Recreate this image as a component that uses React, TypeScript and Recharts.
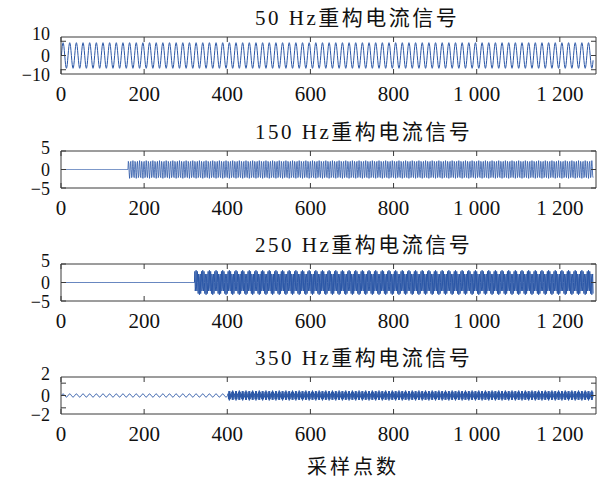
import React from 'react';
import { LineChart, Line, XAxis, YAxis } from 'recharts';

const SAMPLE_COUNT = 1280;
const X_MAX = 1287;
const X_TICKS = [0, 200, 400, 600, 800, 1000, 1200];

// one 16-sample period of each reconstructed band
const wave50 = [0, 3.4, 6.4, 8.3, 9.0, 8.3, 6.4, 3.4, 0, -3.4, -6.4, -8.3, -9.0, -8.3, -6.4, -3.4];
const wave150 = [0, 2.2, 1.7, -0.9, -2.4, -0.9, 1.7, 2.2, 0, -2.2, -1.7, 0.9, 2.4, 0.9, -1.7, -2.2];
const wave250 = [0, 3.0, -2.3, -1.2, 3.3, -1.2, -2.3, 3.0, 0, -3.0, 2.3, 1.2, -3.3, 1.2, 2.3, -3.0];
const wave350 = [0, 0.3, -0.6, 0.7, -0.8, 0.7, -0.6, 0.3, 0, -0.3, 0.6, -0.7, 0.8, -0.7, 0.6, -0.3];
const ripple350 = [0, 0.1, 0.18, 0.23, 0.25, 0.23, 0.18, 0.1, 0, -0.1, -0.18, -0.23, -0.25, -0.23, -0.18, -0.1];

// sample where each band switches on
const onset150 = 161;
const onset250 = 321;
const onset350 = 401;

const titles = ['50 Hz重构电流信号', '150 Hz重构电流信号', '250 Hz重构电流信号', '350 Hz重构电流信号'];
const seriesKeys = ['s50', 's150', 's250', 's350'];
const yTicks = [[-10, 0, 10], [-5, 0, 5], [-5, 0, 5], [-2, 0, 2]];
const yDomains = [[-13, 13], [-5, 5], [-5, 5], [-3, 3]];
const lineWidths = [1, 0.8, 1, 1];

const rows = Array.from({ length: SAMPLE_COUNT }, (_, i) => {
  const n = i + 1;
  const k = i % 16;
  return {
    n,
    s50: wave50[k],
    s150: n >= onset150 ? wave150[k] : 0,
    s250: n >= onset250 ? wave250[k] : 0,
    s350: n >= onset350 ? wave350[k] : ripple350[k],
  };
});

const SERIF = "'Liberation Serif', 'Noto Sans CJK SC', serif";
const AXIS = '#3a3a3a';
const LINE = '#2b57a7';
const TEXT = '#111';

const W = 606;
const CH = 114;
const BOX_TOPS = [37, 151, 264, 377];
const PLOT_TOP = 37;
const PLOT_BOTTOM = 74;

const fmtX = (v: number) =>
  v >= 1000 ? `${Math.floor(v / 1000)} ${String(v % 1000).padStart(3, '0')}` : String(v);
const fmtY = (v: number) => (v < 0 ? `\u2212${Math.abs(v)}` : String(v));

const BottomTick = ({ x, y, payload }: any) => (
  <g>
    <line x1={x} y1={y} x2={x} y2={y - 5} stroke={AXIS} />
    <text x={x} y={y + 20} textAnchor="middle" dominantBaseline="central"
      fontFamily={SERIF} fontSize={21} fill={TEXT}>
      {fmtX(payload.value)}
    </text>
  </g>
);

const TopTick = ({ x, y }: any) => <line x1={x} y1={y} x2={x} y2={y + 5} stroke={AXIS} />;

// labels sit at the frame edges like the original figure
const LeftTick = ({ x, y, payload }: any) => {
  const v = payload.value;
  const ty = v > 0 ? PLOT_TOP - 3 : v < 0 ? PLOT_BOTTOM + 1 : (PLOT_TOP + PLOT_BOTTOM) / 2;
  return (
    <g>
      <line x1={x} y1={y} x2={x + 5} y2={y} stroke={AXIS} />
      <text x={x - 11} y={ty} textAnchor="end" dominantBaseline="central"
        fontFamily={SERIF} fontSize={18} fill={TEXT}>
        {fmtY(v)}
      </text>
    </g>
  );
};

const RightTick = ({ x, y }: any) => <line x1={x} y1={y} x2={x - 5} y2={y} stroke={AXIS} />;

const Panel = ({ idx }: { idx: number }) => {
  const boxTop = BOX_TOPS[idx];
  const top = boxTop - PLOT_TOP;
  return (
    <div style={{ position: 'absolute', left: 0, top, width: W, height: CH }}>
      <div style={{
        position: 'absolute', left: 255, top: 6, fontFamily: SERIF, fontSize: 21,
        lineHeight: '24px', letterSpacing: 2.5, color: TEXT, whiteSpace: 'nowrap'
      }}>
        {titles[idx]}
      </div>
      <LineChart width={W} height={CH} data={rows}
        margin={{ top: 36, right: 9, bottom: 39, left: 60 }}>
        <XAxis dataKey="n" type="number" domain={[0, X_MAX]} ticks={X_TICKS} interval={0}
          height={1} tickSize={0} tickMargin={0} tickLine={false}
          axisLine={{ stroke: AXIS }} tick={<BottomTick />} allowDataOverflow />
        <XAxis xAxisId="top" orientation="top" dataKey="n" type="number" domain={[0, X_MAX]}
          ticks={X_TICKS} interval={0} height={1} tickSize={0} tickMargin={0} tickLine={false}
          axisLine={{ stroke: AXIS }} tick={<TopTick />} allowDataOverflow />
        <YAxis type="number" domain={yDomains[idx]} ticks={yTicks[idx]} interval={0}
          width={1} tickSize={0} tickMargin={0} tickLine={false}
          axisLine={{ stroke: AXIS }} tick={<LeftTick />} allowDataOverflow />
        <YAxis yAxisId="right" orientation="right" type="number" domain={yDomains[idx]}
          ticks={yTicks[idx]} interval={0} width={1} tickSize={0} tickMargin={0} tickLine={false}
          axisLine={{ stroke: AXIS }} tick={<RightTick />} allowDataOverflow />
        <Line dataKey={seriesKeys[idx]} type="linear" stroke={LINE} strokeWidth={lineWidths[idx]}
          dot={false} activeDot={false} isAnimationActive={false} />
      </LineChart>
    </div>
  );
};

export default function App() {
  return (
    <div style={{ position: 'absolute', left: 0, top: 0, width: W, height: 479, background: '#fff' }}>
      {titles.map((_, i) => <Panel key={i} idx={i} />)}
      <div style={{
        position: 'absolute', left: 307, top: 455, fontFamily: SERIF, fontSize: 20,
        lineHeight: '24px', letterSpacing: 3, color: TEXT, whiteSpace: 'nowrap'
      }}>
        采样点数
      </div>
    </div>
  );
}
